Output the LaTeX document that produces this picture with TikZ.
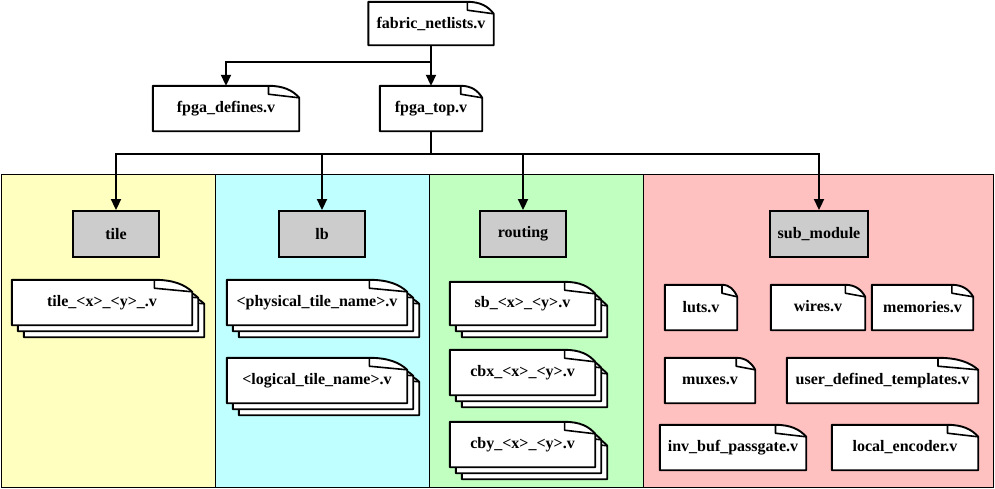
\documentclass[tikz,border=0pt]{standalone}
\usepackage{fontspec}
\setmainfont{Liberation Serif}
\usetikzlibrary{arrows.meta,calc}
\definecolor{pyel}{HTML}{FFFFC0}
\definecolor{pcyan}{HTML}{C0FFFF}
\definecolor{pgreen}{HTML}{C0FFC0}
\definecolor{ppink}{HTML}{FFC0C0}
\definecolor{gbox}{HTML}{CCCCCC}
\pgfdeclarelayer{panels}
\pgfdeclarelayer{shapes}
\pgfsetlayers{panels,shapes,main}
\tikzset{
  txt/.style={inner sep=0pt, font=\fontsize{16}{19}\selectfont\bfseries, align=center},
  doc/.style={txt, minimum width=#1, minimum height=45},
  grp/.style={txt, draw, fill=gbox, line width=1.9pt, minimum width=#1, minimum height=46},
  panel/.style={draw, line width=0.8pt, inner sep=0pt, minimum height=313},
  docline/.style={draw=black, fill=white, line width=1.9pt, line join=round},
  arr/.style={line width=1.9pt, -{Triangle[length=11pt,width=10pt]}}
}
\newcommand\docshape[3]{%
  \begin{pgfonlayer}{shapes}
  \path[docline] let \p1=(#1.north west), \p2=(#1.south east), \n1={0.21*(\x2-\x1)}, \n2={12} in
    (\x1+#2,\y1-#3) -- (\x2-\n1+#2,\y1-#3)
    .. controls (\x2-0.5*\n1+#2,\y1-#3) and (\x2-0.2*\n1+#2,\y1-#3-0.4*\n2) .. (\x2+#2,\y1-#3-\n2)
    -- (\x2+#2,\y2-#3) -- (\x1+#2,\y2-#3) -- cycle;
  \draw[line width=1.6pt, line join=round] let \p1=(#1.north west), \p2=(#1.south east), \n1={0.21*(\x2-\x1)}, \n2={12} in
    (\x2-\n1+#2,\y1-#3) -- (\x2-\n1+#2,\y1-#3-0.7*\n2)
    .. controls (\x2-0.5*\n1+#2,\y1-#3-0.8*\n2) .. (\x2+#2,\y1-#3-\n2);
  \end{pgfonlayer}}
\newcommand\docstack[1]{\docshape{#1}{12pt}{12pt}\docshape{#1}{6pt}{6pt}\docshape{#1}{0pt}{0pt}}
\begin{document}
\begin{tikzpicture}[x=1pt,y=-1pt]
\useasboundingbox (0,0) rectangle (995,488);
% panels
\begin{pgfonlayer}{panels}
\node[panel, fill=pyel,   minimum width=214] (ptile) at (108,330.5) {};
\node[panel, fill=pcyan,  minimum width=214] (plb)   at (322,330.5) {};
\node[panel, fill=pgreen, minimum width=214] (prt)   at (536,330.5) {};
\node[panel, fill=ppink,  minimum width=350] (psub)  at (818,330.5) {};
\end{pgfonlayer}
% top files
\node[doc=125, minimum height=43] (fab) at (431,23.5) {fabric\_netlists.v};
\node[doc=146] (def) at (226,108.5) {fpga\_defines.v};
\node[doc=102] (top) at (431,108.5) {fpga\_top.v};
\docshape{fab}{0pt}{0pt}
\docshape{def}{0pt}{0pt}
\docshape{top}{0pt}{0pt}
% group boxes
\node[grp=86] (tile) at (116,234) {tile};
\node[grp=86] (lb)   at (322,234) {lb};
\node[grp=86] (rt)   at (523,234) {routing};
\node[grp=98] (sub)  at (819,234) {sub\_module};
% stacked files
\node[doc=180] (ftile) at (102,302.5) {tile\_<x>\_<y>\_.v};
\node[doc=180] (fphy)  at (317,302.5) {<physical\_tile\_name>.v};
\node[doc=180] (flog)  at (317,380.5) {<logical\_tile\_name>.v};
\node[doc=145, minimum height=43] (fsb)  at (522.5,303.5) {sb\_<x>\_<y>.v};
\node[doc=145] (fcbx) at (522.5,372.5) {cbx\_<x>\_<y>.v};
\node[doc=145] (fcby) at (522.5,444.5) {cby\_<x>\_<y>.v};
\docstack{ftile}\docstack{fphy}\docstack{flog}
\docstack{fsb}\docstack{fcbx}\docstack{fcby}
% sub_module files
\node[doc=72]  (luts) at (701,307.5) {luts.v};
\node[doc=94]  (wires) at (818,307.5) {\raisebox{3pt}{wires.v}};
\node[doc=101] (mem) at (922.5,307.5) {memories.v};
\node[doc=90]  (mux) at (710,380.5) {muxes.v};
\node[doc=191] (udt) at (882.5,380.5) {user\_defined\_templates.v};
\node[doc=146] (inv) at (733,447.5) {inv\_buf\_passgate.v};
\node[doc=146] (enc) at (905,447.5) {local\_encoder.v};
\docshape{luts}{0pt}{0pt}\docshape{wires}{0pt}{0pt}\docshape{mem}{0pt}{0pt}
\docshape{mux}{0pt}{0pt}\docshape{udt}{0pt}{0pt}
\docshape{inv}{0pt}{0pt}\docshape{enc}{0pt}{0pt}
% connectors
\draw[arr] (fab.south) -- ++(0,17) -| (def.north);
\draw[arr] (fab.south) -- (top.north);
\draw[arr] (top.south) -- ++(0,23) -| (tile.north);
\draw[arr] (top.south) -- ++(0,23) -| (lb.north);
\draw[arr] (top.south) -- ++(0,23) -| (rt.north);
\draw[arr] (top.south) -- ++(0,23) -| (sub.north);
\end{tikzpicture}
\end{document}
